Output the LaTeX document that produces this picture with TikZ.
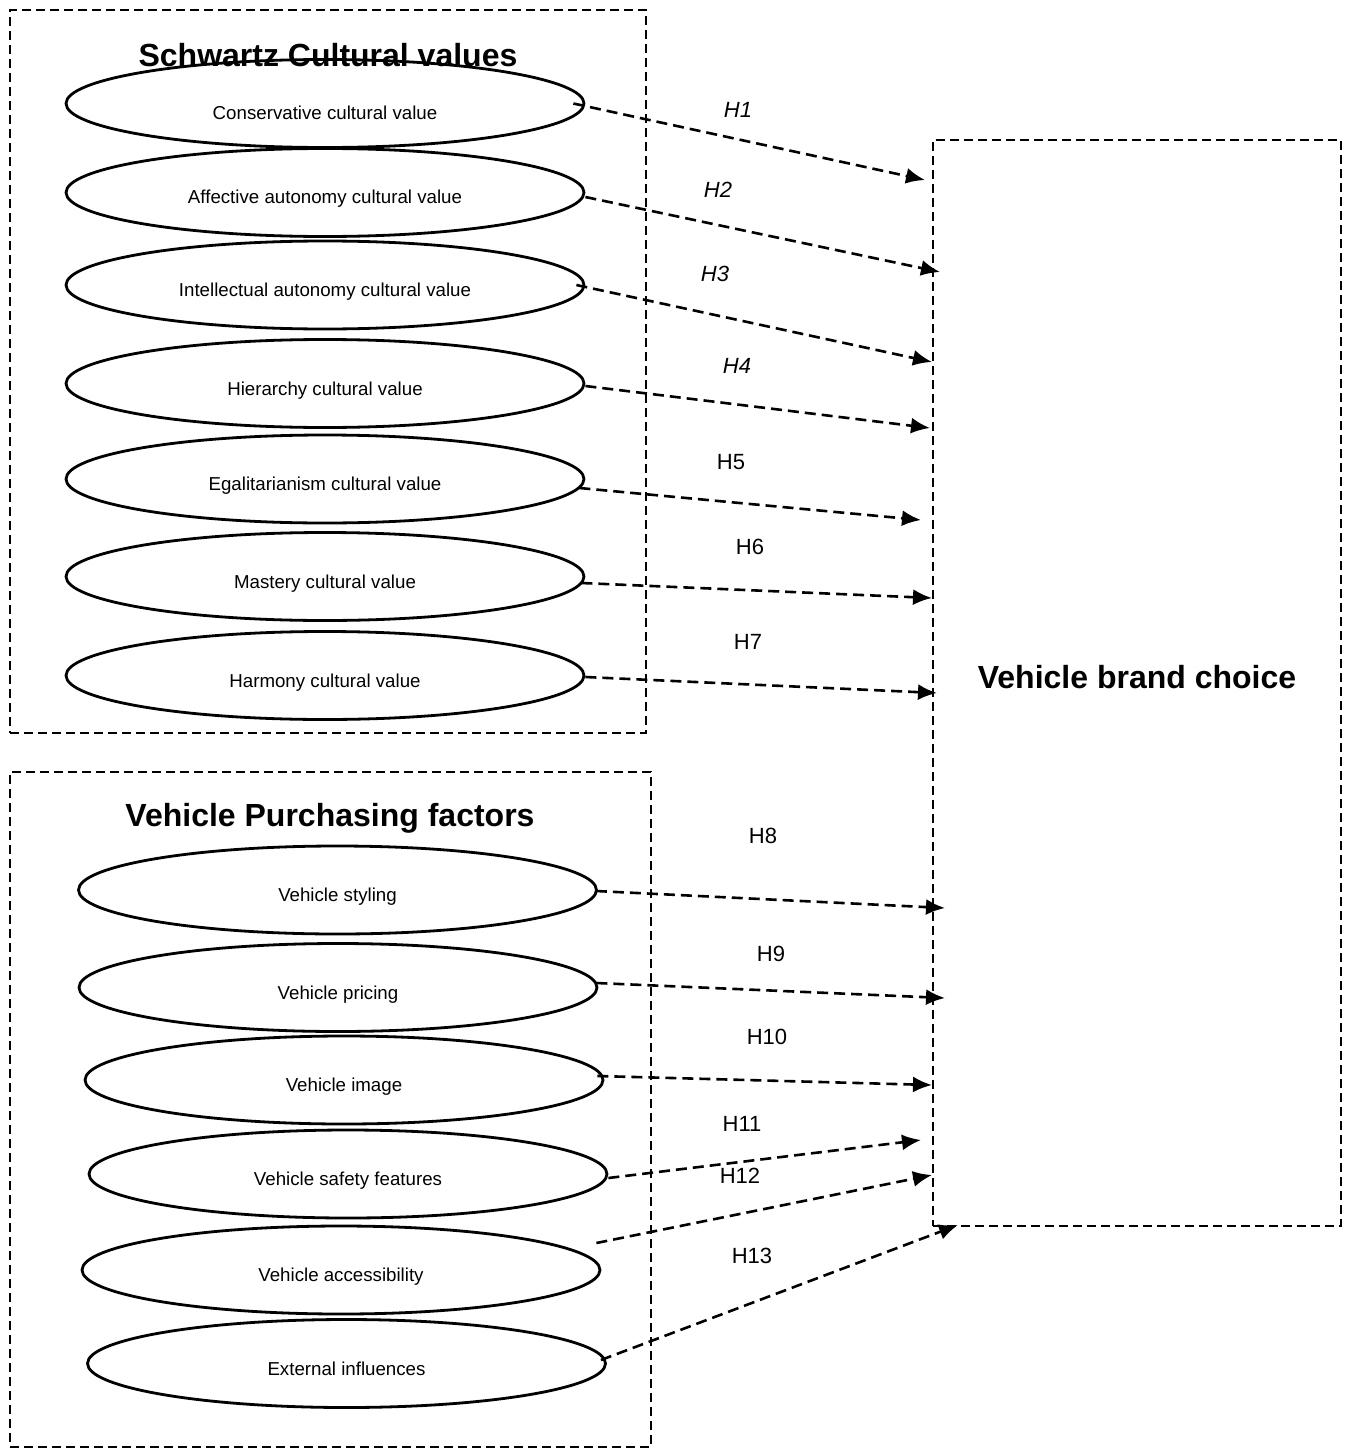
\documentclass[tikz,border=0pt]{standalone}
\usepackage{fontspec}
\setmainfont{Liberation Sans}
\usetikzlibrary{arrows.meta,shapes.geometric}
\tikzset{
  group-frame/.style={draw=black, line width=2.5pt, dash pattern=on 9pt off 5pt, inner sep=0pt},
  value-ellipse/.style={ellipse, draw=black, line width=2.8pt, inner sep=0pt,
    minimum width=518pt, minimum height=88pt, text height=27pt, text depth=4pt,
    font=\fontsize{18.7}{21}\selectfont},
  group-title/.style={font=\fontsize{32}{36}\selectfont\bfseries},
  hyp-arrow/.style={-{Latex[length=19pt,width=16pt]}, line width=2.6pt, dash pattern=on 11pt off 6pt},
  hyp-label/.style={font=\fontsize{22}{25}\selectfont, inner sep=1pt},
  hyp-italic/.style={hyp-label, font=\fontsize{22}{25}\selectfont\itshape}
}
\begin{document}
\begin{tikzpicture}[x=1pt, y=-1pt]
  \useasboundingbox (0,0) rectangle (1349,1450);

  % Group frames
  \node[group-frame, minimum width=636pt, minimum height=723pt] (schwartz) at (328,371.5) {};
  \node[group-frame, minimum width=641pt, minimum height=675pt] (purchase) at (330.5,1109.5) {};
  \node[group-frame, minimum width=408pt, minimum height=1086pt, text height=23pt, text depth=12pt,
        group-title] (brand) at (1137,683) {Vehicle brand choice};

  \node[group-title] (schwartz-title) at (328,55) {Schwartz Cultural values};
  \node[group-title] (purchase-title) at (330,818) {Vehicle Purchasing factors};

  % Schwartz cultural values
  \node[value-ellipse, text height=36pt] (cons) at (325,103.5) {Conservative cultural value};
  \node[value-ellipse] (affa) at (325,192.5) {Affective autonomy cultural value};
  \node[value-ellipse] (inta) at (325,285) {Intellectual autonomy cultural value};
  \node[value-ellipse] (hier) at (325,383.5) {Hierarchy cultural value};
  \node[value-ellipse] (egal) at (325,479) {Egalitarianism cultural value};
  \node[value-ellipse] (mast) at (325,576.5) {Mastery cultural value};
  \node[value-ellipse] (harm) at (325,675.5) {Harmony cultural value};

  % Vehicle purchasing factors
  \node[value-ellipse] (styl) at (337.5,890) {Vehicle styling};
  \node[value-ellipse] (pric) at (338,987.5) {Vehicle pricing};
  \node[value-ellipse] (imag) at (344,1080) {Vehicle image};
  \node[value-ellipse] (safe) at (348,1174) {Vehicle safety features};
  \node[value-ellipse] (acce) at (341,1270) {Vehicle accessibility};
  \node[value-ellipse] (extn) at (346.5,1363.5) {External influences};

  % Arrow ends on the brand choice frame
  \coordinate (e1) at (925,180);
  \coordinate (e2) at (940,272);
  \coordinate (e3) at (932,362);
  \coordinate (e4) at (930,428);
  \coordinate (e5) at (921,520);
  \coordinate (e6) at (932,598);
  \coordinate (e7) at (937,693);
  \coordinate (e8) at (945,908);
  \coordinate (e9) at (945,998);
  \coordinate (e10) at (932,1085);
  \coordinate (e11) at (921,1140);
  \coordinate (e12) at (932,1175);
  \coordinate (e13) at (958,1225);

  % Hypotheses
  \draw[hyp-arrow] ([xshift=-12pt]cons.east) -- (e1);
  \draw[hyp-arrow] ([yshift=-4.5pt]affa.east) -- (e2);
  \draw[hyp-arrow] ([xshift=-9pt]inta.east) -- (e3);
  \draw[hyp-arrow] ([yshift=-2.5pt]hier.east) -- (e4);
  \draw[hyp-arrow] ([xshift=-6pt,yshift=-9pt]egal.east) -- (e5);
  \draw[hyp-arrow] ([xshift=-4pt,yshift=-6.5pt]mast.east) -- (e6);
  \draw[hyp-arrow] ([yshift=-1.5pt]harm.east) -- (e7);
  \draw[hyp-arrow] ([xshift=-2pt,yshift=-1pt]styl.east) -- (e8);
  \draw[hyp-arrow] ([xshift=-2pt,yshift=4.5pt]pric.east) -- (e9);
  \draw[hyp-arrow] ([xshift=-7pt,yshift=4pt]imag.east) -- (e10);
  \draw[hyp-arrow] ([yshift=-4pt]safe.east) -- (e11);
  \draw[hyp-arrow] ([xshift=-5pt,yshift=27pt]acce.east) -- (e12);
  \draw[hyp-arrow] ([xshift=-6pt,yshift=3.5pt]extn.east) -- (e13);

  \node[hyp-italic] (h1) at (738,110) {H1};
  \node[hyp-italic] (h2) at (718,190) {H2};
  \node[hyp-italic] (h3) at (715,274) {H3};
  \node[hyp-italic] (h4) at (737,366) {H4};
  \node[hyp-label] (h5) at (731,462) {H5};
  \node[hyp-label] (h6) at (750,547) {H6};
  \node[hyp-label] (h7) at (748,642) {H7};
  \node[hyp-label] (h8) at (763,836) {H8};
  \node[hyp-label] (h9) at (771,954) {H9};
  \node[hyp-label] (h10) at (767,1037) {H10};
  \node[hyp-label] (h11) at (742,1124) {H11};
  \node[hyp-label] (h12) at (740,1176) {H12};
  \node[hyp-label] (h13) at (752,1256) {H13};
\end{tikzpicture}
\end{document}
